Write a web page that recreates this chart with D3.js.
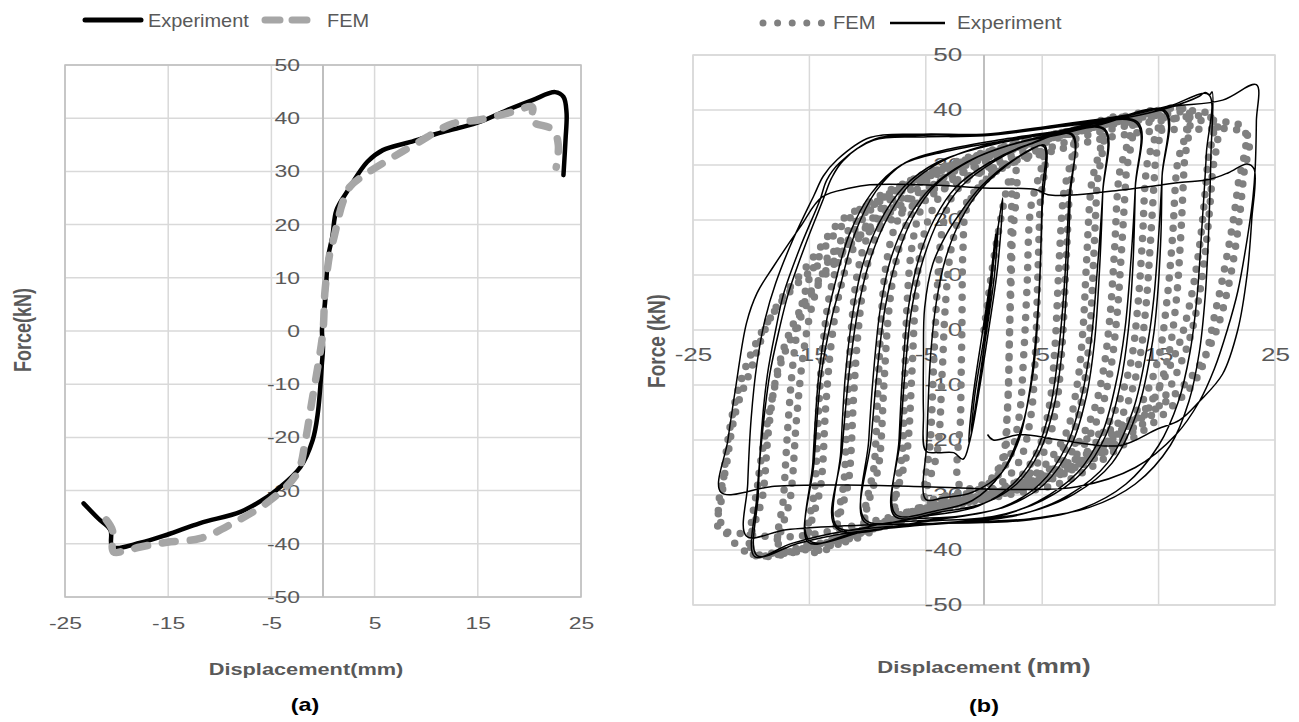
<!DOCTYPE html>
<html>
<head>
<meta charset="utf-8">
<script src="https://cdn.jsdelivr.net/npm/d3@7"></script>
<style>
body { margin: 0; background: #fff; }
text { font-family: "Liberation Sans", Arial, sans-serif; }
</style>
</head>
<body>
<svg id="chart"></svg>
<script>
const xTicks = [-25, -15, -5, 5, 15, 25]
const yTicks = [-50, -40, -30, -20, -10, 0, 10, 20, 30, 40, 50]

// (a) monotonic test, [displacement mm, force kN]
const expA = [[-23.2,-32.4],[-21.8,-35.2],[-20.6,-37.4],[-20.4,-40.6],[-17.7,-39.8],[-15.1,-38.3],[-11.9,-36.1],
  [-8.0,-34.0],[-5.4,-31.2],[-4.5,-29.9],[-2.2,-25.6],[-1.0,-20.5],[-0.5,-15.4],[-0.1,-6.0],[0,-3],[-0.1,0.2],
  [0.2,5.3],[0.5,13.9],[0.9,17.7],[1.3,22.7],[2.3,26.1],[4.3,31.8],[5.8,34.0],[8.4,35.5],[11.6,37.4],[14.9,39.1],
  [17.8,41.5],[20.3,43.4],[22.5,44.9],[23.3,44.0],[23.6,41.0],[23.5,35.9],[23.3,29.3]]

const femA = [[-21.0,-35.5],[-20.4,-37.5],[-20.3,-41.5],[-19.0,-41.2],[-17.7,-40.6],[-15.1,-39.7],[-11.9,-39.0],
  [-8.7,-36.1],[-5.1,-31.8],[-2.5,-26.7],[-1.7,-20.5],[-1.1,-13.5],[-0.5,-6.7],[0,0],[0.2,7.7],[0.7,15],[1.0,17.1],
  [1.9,24.1],[2.6,27.1],[4.3,29.7],[6.8,32.7],[9.1,35.3],[12.6,39.0],[15.2,39.7],[18.4,41.2],[20.3,42.1],
  [20.2,39.5],[22.3,37.8],[22.8,35.0],[22.6,30.8]]

// (b) cyclic test, FEM
const femB = [[0,0],[1.0,15],[2.3,28],
  [2.3,15],[2.2,0],[2.0,-15],[1.6,-24],[0,-28],[-2,-28.5],
  [-2.0,-15],[-1.9,0],[-1.8,15],[-1.5,22],[0,27],[2.5,30],
  [2.4,15],[2.2,0],[2.0,-15],[1.5,-24],[0,-28.5],[-2,-29.5],[-4,-30.5],[-5,-31],
  // 5 mm
  [-4.6,-20],[-4.3,-5],[-4.0,8],[-3.6,18],[-2.8,24],[-1,28],[2,31],[5,33],
  [4.8,22],[4.6,8],[4.4,-5],[4.0,-16],[3.0,-24],[1,-28.5],[-3,-31],[-5,-31.5],
  [-4.0,-22],[-3.6,-8],[-3.3,5],[-2.8,15],[-1.8,22],[0,27],[2.5,30.5],[5,32.5],
  [4.0,22],[3.7,8],[3.4,-5],[3.0,-16],[2.0,-24],[0,-28.5],[-4,-31],[-7.5,-33],
  // 7.5 mm
  [-7.0,-22],[-6.8,-8],[-6.6,5],[-6.2,15],[-5.4,22],[-3.8,27],[-1,30.5],[3,33.5],[7.5,35.5],
  [7.3,24],[7.0,10],[6.7,-3],[6.2,-14],[5.2,-22],[3,-28],[0,-30.5],[-4,-32.3],[-7.5,-33.3],
  [-6.6,-22],[-6.2,-8],[-5.9,5],[-5.4,15],[-4.4,22],[-2.6,27.5],[0.5,31],[4,33.8],[7.5,35.3],
  [6.8,24],[6.4,10],[6.1,-3],[5.6,-14],[4.6,-22],[2.5,-28],[-0.5,-30.8],[-5,-32.8],[-10,-35.5],
  // 10 mm
  [-9.4,-24],[-9.1,-10],[-8.8,3],[-8.4,12],[-7.6,19],[-6,25],[-3.5,29],[0,32],[5,34.5],[10,37],
  [9.7,26],[9.4,12],[9.1,0],[8.6,-10],[7.6,-19],[5.5,-25.5],[2,-29.5],[-4,-32],[-10,-35.8],
  [-9.0,-24],[-8.6,-10],[-8.2,3],[-7.6,12],[-6.6,19.5],[-4.8,25.5],[-2,29.5],[2,32.5],[6,35],[10,36.8],
  [9.2,26],[8.8,12],[8.5,0],[8.0,-10],[7.0,-19],[4.8,-25.5],[1.5,-29.7],[-4,-32.5],[-9,-35.3],[-12.5,-38],
  // 12.5 mm
  [-12.0,-27],[-11.7,-12],[-11.4,0],[-10.9,10],[-10,17],[-8.4,22.5],[-6,27],[-2.5,30.5],[2,33.5],[7,36],[12.5,38.5],
  [12.2,28],[11.8,14],[11.4,2],[10.8,-8],[9.8,-16],[7.8,-23],[4.5,-27.5],[0,-30],[-6,-33],[-12.5,-38.3],
  [-11.6,-27],[-11.2,-12],[-10.8,0],[-10.2,10],[-9.2,17.5],[-7.5,23],[-5,27.5],[-1.5,31],[3,34],[8,36.5],[12.5,38.3],
  [11.6,28],[11.2,14],[10.8,2],[10.2,-8],[9.2,-16],[7.2,-23],[4,-27.8],[0,-30.3],[-6,-33.5],[-11,-37],[-15,-40],
  // 15 mm
  [-14.5,-28],[-14.2,-14],[-13.8,-2],[-13.2,7],[-12.2,14],[-10.5,20],[-8,25],[-5,28.5],[0,32],[6,35.5],[11,38],[15,39.5],
  [14.7,30],[14.3,16],[13.9,4],[13.3,-6],[12.2,-14],[10.2,-21],[7,-26],[3,-29],[-3,-32],[-9,-35.5],[-15,-40.2],
  [-14.0,-28],[-13.6,-14],[-13.1,-2],[-12.4,7],[-11.3,14.5],[-9.5,20.5],[-7,25.5],[-4,29],[1,32.5],[7,36],[12,38.3],[15,39.3],
  [14.0,30],[13.6,16],[13.2,4],[12.6,-6],[11.4,-14],[9.4,-21],[6.2,-26],[2.5,-29.2],[-3,-32.3],[-9,-35.8],[-14,-39],[-17.5,-40],
  // 17.5 mm
  [-17.2,-30],[-16.8,-16],[-16.3,-4],[-15.6,5],[-14.5,12],[-12.6,18],[-10,23],[-6.5,27],[-2,30.5],[4,34],[10,37.5],[15,39.5],[17.5,40],
  [17.2,30],[16.9,17],[16.5,5],[15.8,-5],[14.5,-13],[12,-19.5],[8.5,-24.5],[4,-28],[-2,-31],[-8,-34.5],[-13,-38],[-17.5,-40.3],
  [-16.6,-30],[-16.1,-16],[-15.5,-4],[-14.7,5],[-13.5,12],[-11.5,18.5],[-9,23.5],[-5.5,27.5],[-1,31],[5,34.5],[11,37.8],[17.5,39.8],
  [16.6,30],[16.2,17],[15.7,5],[15.0,-5],[13.6,-13],[11.2,-19.5],[7.8,-24.5],[3.5,-28.2],[-2,-31.3],[-8,-34.8],[-13,-38.3],[-17,-40],[-19.8,-40.5],
  // 20 mm
  [-19.4,-27.4],[-18.4,-14.6],[-17.4,-5.7],[-16.1,0.6],[-14.5,7.6],[-12.6,12.7],[-11,17.2],[-8.4,21.7],[-5.8,24.8],[-2.6,28],[2,31.5],[8,36],[14,38.8],[19.5,39],
  [19.2,30],[18.5,15],[17.5,3],[16.5,-4],[14,-14],[10.8,-20],[7.4,-24],[3.7,-27],[0,-29.5],[-5,-32],[-10,-36],[-15,-39.5],[-20,-40.5],
  [-19.0,-30],[-18.5,-18],[-17.8,-8],[-16.8,-1],[-15.3,5.5],[-13.5,11],[-11.5,15.5],[-9,20],[-6,24],[-2,27.5],[3,31],[9,35.5],[15,38],[19.8,38.2],
  [19.6,28],[19,14],[18.2,3],[17.2,-4.5],[14.8,-14.5],[11.5,-20.5],[8,-24.5],[4,-27.5],[0,-30],[-5,-32.5],[-10,-36.3],[-15,-39.8],[-20,-40.8],[-22.7,-34.5],
  // 22.5 mm
  [-22.1,-24.2],[-21.3,-14.6],[-20,-7],[-18.7,0.6],[-17.4,5.7],[-15.5,10.8],[-14.2,14.6],[-12.9,18.5],[-11.6,21],[-9.7,22.9],[-7.1,25.5],[-5.2,28],[-1,31],[5,34.5],[10,37],[15,38.5],[19,38],[22.3,36.7],
  [21.8,26],[21.3,18.5],[20,4.5],[18.4,-8.3],[15.8,-14.6],[11.9,-21],[7.1,-27.4],[2,-30],[-4,-32],[-10,-35],[-16,-37.5],[-21,-37],[-22.8,-36],
  [-22.5,-30],[-22.0,-20],[-21.0,-10],[-19.5,-2],[-17.8,4],[-16,8.5],[-13.5,13],[-11,16.5],[-8,20],[-5,24],[-1,28],[5,32],[12,35.5],[18,36.5],[22.6,35.5],
  [22.3,28],[21.8,18],[21,8],[19.8,-1],[18,-8],[15,-14],[11,-18],[6,-22]]

// (b) cyclic test, experiment
const expB = [[0,0],[0.6,10],[1.0,17.5],[0.8,12],[0.2,0],[-0.6,-12],[-1.1,-19],[-0.8,-12],[0.1,0],[0.8,12],[1.2,19],[0.9,10],
  [0.1,-2],[-0.7,-14],[-1.3,-20.5],[-1.0,-13],[-0.1,0],[0.9,14],[1.6,24],[1.2,12],[0.4,0],[-0.5,-12],[-1.2,-20],[-1.8,-23.5],
  // 5 mm
  [-2.6,-22.3],[-4.0,-22.3],[-5.0,-22],[-5.2,-15],[-5.2,-5],[-5.1,4],[-4.4,12],[-3.2,17.5],[-2.3,20.5],[-0.3,26],[2.5,30.9],[5.1,33.4],
  [5.0,25],[4.8,10],[4.5,0],[4.0,-10],[3.0,-20],[1.5,-26],[-1,-29.5],[-3.5,-30.5],[-5.0,-30.8],
  [-4.9,-20],[-4.6,-5],[-4.1,5],[-3.3,13],[-2.0,20],[-0.3,25.5],[2,30],[3.8,32.5],[5.2,33.6],
  // 7.5 mm
  [5.0,22],[4.7,5],[4.2,-8],[3.2,-18],[1.5,-26],[-1,-31],[-4,-32.8],[-7.6,-33.5],
  [-7.3,-20],[-7.0,-8],[-6.5,4],[-5.6,13],[-4.3,20],[-2.4,26],[0.5,30.5],[3.5,33.5],[7.5,35.5],
  [7.4,24],[7.1,8],[6.7,-4],[6.0,-14],[4.8,-22],[2.8,-28],[0,-31.5],[-3.5,-33],[-7.7,-33.8],
  [-7.2,-20],[-6.8,-8],[-6.2,4],[-5.2,13],[-3.9,20],[-2.0,26],[1,30.8],[4,33.8],[7.6,35.6],
  // 10 mm
  [7.3,24],[6.9,8],[6.4,-4],[5.7,-14],[4.5,-22],[2.5,-28],[-0.5,-32],[-5,-33.8],[-10.2,-34.5],
  [-9.9,-20],[-9.5,-8],[-8.9,4],[-8.0,13],[-6.6,20],[-4.5,26],[-1.5,30.5],[2,33.5],[6,35.3],[10.3,36.4],
  [10.2,25],[9.9,10],[9.5,-2],[8.8,-12],[7.5,-21],[5.2,-28],[2,-32],[-2,-33.8],[-6,-34.3],[-10.3,-34.8],
  [-9.7,-20],[-9.2,-8],[-8.5,4],[-7.5,13],[-6.1,20.5],[-4.1,26.5],[-1,31],[2.5,33.8],[6,35.6],[10.4,36.5],
  // 12.5 mm
  [10.2,25],[9.7,10],[9.2,-2],[8.4,-12],[7.1,-21],[4.8,-28],[1.5,-32.3],[-3,-34.2],[-8,-35],[-12.6,-35.8],
  [-12.3,-22],[-11.9,-8],[-11.2,4],[-10.4,12],[-9.0,19.5],[-6.9,26],[-4,30.5],[0,33.3],[6,35.8],[13.1,37.6],
  [13.0,26],[12.8,12],[12.4,0],[11.7,-10],[10.5,-19],[8.4,-26],[5,-31],[1,-33.8],[-5,-34.8],[-12.7,-36],
  [-12.2,-22],[-11.6,-8],[-10.8,4],[-9.9,12],[-8.5,19.5],[-6.5,26.2],[-3.5,30.8],[0,33.5],[6,36],[13.2,37.8],
  // 15 mm
  [13.0,26],[12.6,12],[12.1,0],[11.3,-10],[10.1,-19],[8.0,-26],[4.6,-31.2],[1,-34],[-5,-35.3],[-10,-36.5],[-15.0,-38.3],
  [-14.7,-24],[-14.2,-8.3],[-13.5,2],[-12.9,7.6],[-11.6,17.2],[-9.7,24.8],[-7.1,30],[-3.2,32.5],[2,34.5],[9,36.8],[15.5,39.6],
  [15.3,28],[15.2,17.2],[14.9,6],[14.5,-1.9],[13.2,-14.6],[11,-24.2],[7.7,-29.9],[3.9,-33.1],[0,-34.4],[-6,-35.5],[-11,-36.8],[-15.1,-38.6],
  [-14.6,-24],[-14.0,-8.3],[-13.1,2],[-12.4,7.6],[-11.1,17.5],[-9.3,25.2],[-6.8,30.4],[-3.2,32.8],[2,34.8],[9,37],[15.6,39.8],
  // 20 mm
  [15.3,28],[15.0,17],[14.6,6],[14.1,-2],[12.8,-14.6],[10.6,-24.2],[7.3,-30],[3.6,-33.3],[0,-34.6],[-6,-35.6],[-12,-37],[-16,-38.8],[-19.5,-41],
  [-19.4,-30],[-19.1,-18],[-18.6,-8],[-17.9,0],[-17.2,6.7],[-15.8,15],[-14.1,23.6],[-13.5,27.3],[-12.4,30.4],[-9.5,34.5],[-5.2,35.1],[0,35.3],[6,36.8],[12,38.5],[16,40.5],[18.5,42.5],[19.0,43.2],[19.4,42.8],[19.6,43.3],
  [19.5,32],[19.3,18],[19.0,6],[18.5,-4],[17.6,-13],[16,-21],[13,-28],[9,-32.3],[4,-34.3],[0,-34.8],[-6,-35.4],[-12,-36.6],[-16.5,-38.8],[-19.7,-41.2],
  [-19.5,-30],[-19.0,-18],[-18.4,-8],[-17.6,0],[-16.8,6.7],[-15.4,15.2],[-13.8,23.8],[-13.1,27.6],[-12.1,30.8],[-9.3,34.8],[-5.2,35.4],[0,35.5],[6,37],[12,38.8],[16,40.8],[19.3,42.8],
  [19.1,32],[18.7,18],[18.3,6],[17.7,-4],[16.7,-13],[15.0,-21],[12.2,-28],[8.4,-32.5],[4,-34.5],[0,-35],[-6,-35.2],[-12,-35.6],[-17,-36.3],[-20.4,-37.5],
  // 23.5 mm, drop and last cycle
  [-20.3,-28],[-20.0,-16],[-19.5,-6],[-18.8,2],[-17.9,8.5],[-16.4,16.5],[-14.6,24.5],[-13.8,28],[-12.6,31],[-9.8,35],[-5.2,35.6],[0,35.6],[6,37.2],[12,39],[16,40.6],[20.5,41.8],[23.4,44.6],
  [23.4,38],[23.3,29.5],
  [23.1,24],[22.6,16.4],[21.8,7],[20.9,0],[19.8,-7],[18.5,-13],[16.5,-19],[13,-25],[8,-28.5],[3,-29],[-5,-28.5],[-12,-28.2],[-18,-28.4],[-22.6,-29.5],
  [-22.0,-20],[-21.3,-10],[-20.4,1.3],[-19.5,6.7],[-18.1,11.5],[-15.8,18.7],[-13.9,24.2],[-11.5,25.8],[-9.8,26.4],[-4,26.3],[0,25.8],[4.5,25.5],[5.5,24.6],[8,24.6],[12,25.5],[16.8,26.8],[19.4,27.4],[21,28.6],[22.6,30.2],[23.2,29.3],
  [23.0,20],[22.6,10],[21.8,0],[20.5,-8],[18.5,-13],[16.8,-16.4],[14.9,-18],[11.7,-21],[6.5,-20],[3.1,-19],[0.8,-20],[0.3,-19]]

const svg = d3.select('#chart').attr('width', 1299).attr('height', 722)
const gray = '#595959'

let xScaleA = d3.scaleLinear().domain([-25, 25]).range([65, 581])
let yScaleA = d3.scaleLinear().domain([-50, 50]).range([597, 65])
let xScaleB = d3.scaleLinear().domain([-25, 25]).range([693, 1275])
let yScaleB = d3.scaleLinear().domain([-50, 50]).range([605, 55])

let drawGrid = (xScale, yScale, borderColor) => {
    let g = svg.append('g')
    g.selectAll('line.h').data(yTicks).enter().append('line')
        .attr('x1', xScale(-25)).attr('x2', xScale(25))
        .attr('y1', d => yScale(d)).attr('y2', d => yScale(d))
        .attr('stroke', '#d9d9d9').attr('stroke-width', 1.5)
    g.selectAll('line.v').data(xTicks).enter().append('line')
        .attr('y1', yScale(-50)).attr('y2', yScale(50))
        .attr('x1', d => xScale(d)).attr('x2', d => xScale(d))
        .attr('stroke', '#d9d9d9').attr('stroke-width', 1.5)
    g.append('rect')
        .attr('x', xScale(-25)).attr('y', yScale(50))
        .attr('width', xScale(25) - xScale(-25)).attr('height', yScale(-50) - yScale(50))
        .attr('fill', 'none').attr('stroke', borderColor).attr('stroke-width', 1.5)
    // vertical axis at zero displacement
    g.append('line')
        .attr('x1', xScale(0)).attr('x2', xScale(0))
        .attr('y1', yScale(-50)).attr('y2', yScale(50))
        .attr('stroke', '#bfbfbf').attr('stroke-width', 2)
}

let drawAxes = (xScale, yScale, xAxisY, o) => {
    let yAxis = d3.axisLeft(yScale).tickValues(yTicks).tickSize(0).tickPadding(o.yPad).tickFormat(d => String(d))
    svg.append('g')
        .attr('transform', 'translate(' + xScale(0) + ',0)')
        .call(yAxis)
        .attr('font-family', '"Liberation Sans", Arial, sans-serif')
        .attr('font-size', o.size)
        .call(s => s.select('.domain').remove())
        .selectAll('text').attr('fill', gray).attr('transform', 'scale(' + o.sx + ',1)')

    let xAxis = d3.axisBottom(xScale).tickValues(xTicks).tickSize(0).tickPadding(o.xPad).tickFormat(d => String(d))
    svg.append('g')
        .attr('transform', 'translate(0,' + xAxisY + ')')
        .call(xAxis)
        .attr('font-family', '"Liberation Sans", Arial, sans-serif')
        .attr('font-size', o.size)
        .call(s => s.select('.domain').remove())
        .selectAll('text').attr('fill', gray).attr('transform', 'scale(' + o.sx + ',1)')
}

let addText = (str, x, y, o) => {
    let t = svg.append('text')
        .attr('transform', 'translate(' + x + ',' + y + ')' + (o.rotate ? ' rotate(-90) scale(1,' + o.sx + ')' : ' scale(' + o.sx + ',1)'))
        .attr('text-anchor', o.anchor || 'middle')
        .attr('font-size', o.size)
        .attr('font-weight', o.bold ? 'bold' : 'normal')
        .attr('fill', o.fill || gray)
        .text(str)
    return t
}

let lineGen = (xScale, yScale) => d3.line()
    .x(d => xScale(d[0]))
    .y(d => yScale(d[1]))
    .curve(d3.curveCatmullRom.alpha(0.5))

// ---- (a)
drawGrid(xScaleA, yScaleA, '#bfbfbf')
drawAxes(xScaleA, yScaleA, yScaleA(-50), {size: 17, sx: 1.35, yPad: 17, xPad: 20})

svg.append('path').datum(expA)
    .attr('d', lineGen(xScaleA, yScaleA))
    .attr('fill', 'none').attr('stroke', '#000').attr('stroke-width', 4.5)
    .attr('stroke-linejoin', 'round').attr('stroke-linecap', 'round')
svg.append('path').datum(femA)
    .attr('d', lineGen(xScaleA, yScaleA))
    .attr('fill', 'none').attr('stroke', '#a6a6a6').attr('stroke-width', 7.5)
    .attr('stroke-dasharray', '13,15').attr('stroke-linecap', 'round')

addText('Displacement(mm)', 306, 675, {size: 17, sx: 1.28, bold: true})
addText('Force(kN)', 31, 330, {size: 18, sx: 1.3, bold: true, rotate: true})
addText('(a)', 305, 711, {size: 18, sx: 1.3, bold: true, fill: '#000'})

svg.append('line').attr('x1', 85).attr('x2', 141).attr('y1', 20).attr('y2', 20)
    .attr('stroke', '#000').attr('stroke-width', 5).attr('stroke-linecap', 'round')
addText('Experiment', 148, 27, {size: 19, sx: 1.05, anchor: 'start'})
svg.append('line').attr('x1', 265).attr('x2', 310).attr('y1', 20).attr('y2', 20)
    .attr('stroke', '#a6a6a6').attr('stroke-width', 7).attr('stroke-linecap', 'round')
    .attr('stroke-dasharray', '15,12')
addText('FEM', 327, 27, {size: 19, sx: 1.05, anchor: 'start'})

// ---- (b)
drawGrid(xScaleB, yScaleB, '#d9d9d9')
drawAxes(xScaleB, yScaleB, yScaleB(0), {size: 18, sx: 1.45, yPad: 15, xPad: 18})

svg.append('path').datum(femB)
    .attr('d', lineGen(xScaleB, yScaleB))
    .attr('fill', 'none').attr('stroke', '#808080').attr('stroke-width', 7.5)
    .attr('stroke-dasharray', '0,12.5').attr('stroke-linecap', 'round')
svg.append('path').datum(expB)
    .attr('d', lineGen(xScaleB, yScaleB))
    .attr('fill', 'none').attr('stroke', '#000').attr('stroke-width', 1.5)
    .attr('stroke-linejoin', 'round')

let xt = addText('', 984, 673, {size: 17, sx: 1.3, bold: true})
xt.append('tspan').text('Displacement  ')
xt.append('tspan').attr('font-size', 20).text('(mm)')
addText('Force (kN)', 665, 341, {size: 19, sx: 1.3, bold: true, rotate: true})
addText('(b)', 984, 712, {size: 18, sx: 1.3, bold: true, fill: '#000'})

svg.append('line').attr('x1', 763).attr('x2', 823).attr('y1', 23).attr('y2', 23)
    .attr('stroke', '#808080').attr('stroke-width', 7).attr('stroke-linecap', 'round')
    .attr('stroke-dasharray', '0,14.6')
addText('FEM', 833, 29, {size: 18, sx: 1.12, anchor: 'start'})
svg.append('line').attr('x1', 890).attr('x2', 945).attr('y1', 23).attr('y2', 23)
    .attr('stroke', '#000').attr('stroke-width', 2.5)
addText('Experiment', 957, 29, {size: 18, sx: 1.15, anchor: 'start'})
</script>
</body>
</html>
